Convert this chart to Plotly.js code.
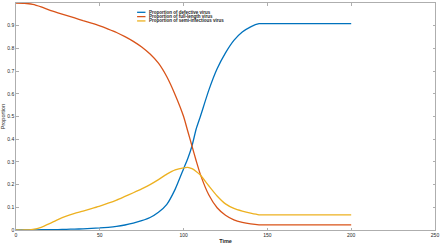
<!DOCTYPE html>
<html>
<head>
<meta charset="utf-8">
<script src="https://cdn.plot.ly/plotly-3.0.1.min.js"></script>
<style>html,body{margin:0;padding:0;background:#fff;}#chart{width:440px;height:246px;}</style>
</head>
<body>
<div id="chart"></div>
<script>
// Time points
const time = [0,5,10,15,20,25,30,35,40,45,50,55,60,65,70,75,80,85,90,95,100,102.5,105,107.5,110,115,120,125,130,135,140,145,150,160,170,180,190,200];
// Proportion of defective virus
const defective = [0,0,0,0.001,0.001,0.002,0.003,0.004,0.005,0.007,0.009,0.012,0.016,0.022,0.030,0.041,0.055,0.078,0.113,0.180,0.270,0.315,0.370,0.445,0.500,0.615,0.710,0.780,0.835,0.872,0.895,0.909,0.909,0.909,0.909,0.909,0.909,0.909];
// Proportion of full-length virus
const fullLength = [1,0.999,0.994,0.983,0.969,0.957,0.946,0.934,0.922,0.911,0.899,0.885,0.870,0.852,0.831,0.806,0.775,0.735,0.675,0.595,0.500,0.435,0.370,0.305,0.245,0.155,0.098,0.065,0.045,0.034,0.027,0.023,0.023,0.023,0.023,0.023,0.023,0.023];
// Proportion of semi-infectious virus
const semiInfectious = [0,0,0.003,0.012,0.028,0.046,0.061,0.073,0.083,0.094,0.105,0.118,0.132,0.148,0.164,0.181,0.200,0.222,0.246,0.265,0.274,0.276,0.270,0.258,0.242,0.195,0.150,0.115,0.095,0.083,0.074,0.067,0.067,0.067,0.067,0.067,0.067,0.067];

const seriesNames = ['Proportion of defective virus','Proportion of full-length virus','Proportion of semi-infectious virus'];
const seriesColors = ['#0072BD','#D95319','#EDB120'];
const seriesData = [defective, fullLength, semiInfectious];
const xTicks = [0,50,100,150,200,250];
const yTicks = [0,0.1,0.2,0.3,0.4,0.5,0.6,0.7,0.8,0.9,1];
const yTickText = ['0','0.1','0.2','0.3','0.4','0.5','0.6','0.7','0.8','0.9','1'];

const traces = seriesData.map((d,i)=>({
  x: time, y: d, type:'scatter', mode:'lines', name: seriesNames[i],
  line:{color: seriesColors[i], width:1.3, shape:'spline', smoothing:0.5},
  showlegend:false, hoverinfo:'skip'
}));

const font = {family:'Liberation Sans, Arial, sans-serif', size:5, color:'#262626'};
const axisCommon = {
  showgrid:false, zeroline:false, showline:true, linecolor:'#9a9a9a', linewidth:0.8,
  mirror:'ticks', ticks:'inside', ticklen:2.5, tickcolor:'#9a9a9a', tickwidth:0.8,
  tickfont: font
};

// legend drawn in paper coordinates
const legX0 = 0.289, legX1 = 0.309, legTx = 0.312;
const legY = [0.959, 0.940, 0.921];
const shapes = seriesNames.map((n,i)=>({type:'line', xref:'paper', yref:'paper', x0:legX0, x1:legX1, y0:legY[i], y1:legY[i], line:{color:seriesColors[i], width:1.3}}));
const annotations = seriesNames.map((n,i)=>({xref:'paper', yref:'paper', x:legTx, y:legY[i], xanchor:'left', yanchor:'middle', text:'<b>'+n+'</b>', showarrow:false, font:{family:'Liberation Sans, Arial, sans-serif', size:4.5, color:'#262626'}}));

const layout = {
  width:440, height:246,
  margin:{l:16, r:5, t:3, b:16, pad:0},
  paper_bgcolor:'#fff', plot_bgcolor:'#fff',
  font: font,
  xaxis: Object.assign({}, axisCommon, {range:[0,250], tickvals:xTicks, ticktext:xTicks.map(String),
    title:{text:'<b>Time</b>', font:{family:'Liberation Sans, Arial, sans-serif', size:5.5, color:'#262626'}, standoff:2}}),
  yaxis: Object.assign({}, axisCommon, {range:[0,1], tickvals:yTicks, ticktext:yTickText,
    title:{text:'Proportion', font:{family:'Liberation Sans, Arial, sans-serif', size:5.5, color:'#262626'}, standoff:2}}),
  shapes: shapes,
  annotations: annotations,
  showlegend:false
};

Plotly.newPlot('chart', traces, layout, {staticPlot:true, displayModeBar:false});
</script>
</body>
</html>
